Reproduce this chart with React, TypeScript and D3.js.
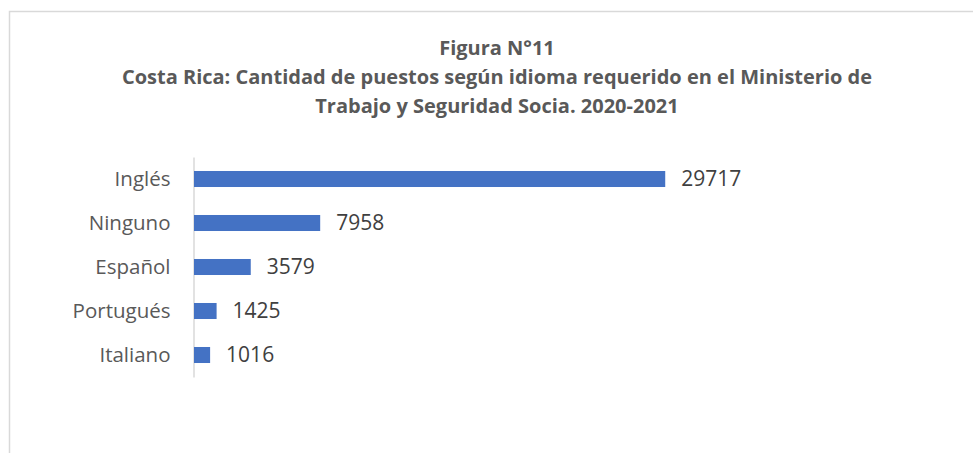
import React, { useRef, useEffect } from 'react';
import * as d3 from 'd3';

const categories: string[] = ['Inglés', 'Ninguno', 'Español', 'Portugués', 'Italiano'];
const values: number[] = [29717, 7958, 3579, 1425, 1016];
const titleLines: string[] = [
  'Figura N°11',
  'Costa Rica: Cantidad de puestos según idioma requerido en el Ministerio de',
  'Trabajo y Seguridad Socia. 2020-2021'
];

const App: React.FC = () => {
  const svgRef = useRef<SVGSVGElement>(null);

  useEffect(() => {
    if (!svgRef.current) return;
    const svg = d3.select(svgRef.current);
    svg.selectAll('*').remove();

    const width = 973;
    const height = 453;
    const font = "'Open Sans', sans-serif";

    svg.append('rect')
      .attr('x', 0).attr('y', 0)
      .attr('width', width).attr('height', height)
      .attr('fill', '#fff');

    // chart area border (runs off right and bottom)
    svg.append('rect')
      .attr('x', 9.5).attr('y', 11.5)
      .attr('width', width + 20).attr('height', height + 20)
      .attr('fill', 'none')
      .attr('stroke', '#d9d9d9')
      .attr('stroke-width', 1.5);

    // title
    const title = svg.append('text')
      .attr('text-anchor', 'middle')
      .attr('font-family', font)
      .attr('font-weight', 700)
      .attr('font-size', 20)
      .attr('fill', '#595959');
    titleLines.forEach((t, i) => {
      title.append('tspan')
        .attr('x', 497)
        .attr('y', 55 + i * 29)
        .text(t);
    });

    const x = d3.scaleLinear().domain([0, 35000]).range([194, 749]);
    const y = d3.scaleBand()
      .domain(categories)
      .range([157, 377])
      .paddingInner(0.636)
      .paddingOuter(0.318);

    // category axis
    const axis = svg.append('g')
      .attr('transform', 'translate(193.5,0)')
      .call(d3.axisLeft(y).tickSize(0).tickPadding(23));
    axis.select('.domain').attr('stroke', '#d9d9d9').attr('stroke-width', 1.5);
    axis.selectAll('text')
      .attr('font-family', font)
      .attr('font-size', 20.5)
      .attr('fill', '#595959')
      .attr('dy', '0.35em');

    const data = categories.map((c, i) => ({ c, v: values[i] }));

    svg.append('g')
      .selectAll('rect')
      .data(data)
      .enter().append('rect')
      .attr('x', x(0))
      .attr('y', d => y(d.c) || 0)
      .attr('width', d => x(d.v) - x(0))
      .attr('height', y.bandwidth())
      .attr('fill', '#4472C4');

    svg.append('g')
      .selectAll('text')
      .data(data)
      .enter().append('text')
      .attr('x', d => x(d.v) + 16)
      .attr('y', d => (y(d.c) || 0) + y.bandwidth() / 2)
      .attr('dy', '0.35em')
      .attr('font-family', font)
      .attr('font-size', 21)
      .attr('fill', '#404040')
      .text(d => d.v);
  }, []);

  return (
    <svg
      ref={svgRef}
      width={973}
      height={453}
      style={{ position: 'absolute', left: 0, top: 0, display: 'block' }}
    />
  );
};

export default App;
